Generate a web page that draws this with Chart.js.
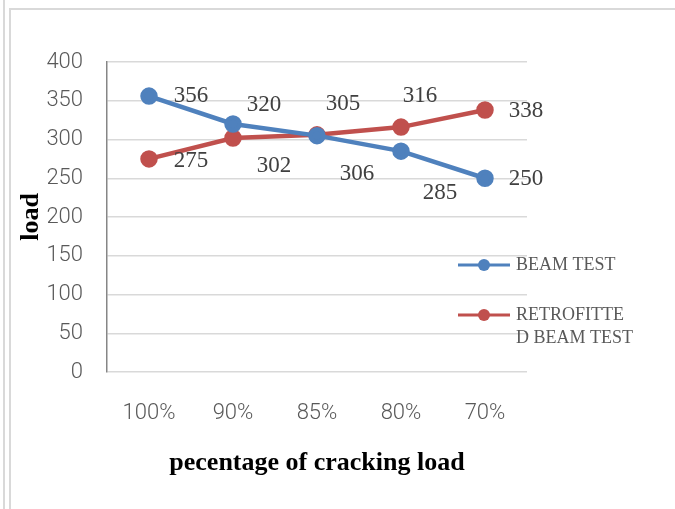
<!DOCTYPE html>
<html>
<head>
<meta charset="utf-8">
<script src="https://cdn.jsdelivr.net/npm/chart.js@4"></script>
<style>
  html, body { margin: 0; padding: 0; background: #fff; }
  #wrap { position: relative; width: 675px; height: 509px; overflow: hidden; }
  #edge { position: absolute; left: 3px; top: 0; width: 2px; height: 509px; background: #d9d9d9; }
  #frame { position: absolute; left: 9px; top: 8px; width: 680px; height: 520px; border-left: 2px solid #d9d9d9; border-top: 2px solid #d9d9d9; }
  canvas { position: absolute; left: 0; top: 0; }
</style>
</head>
<body>
<div id="wrap">
  <div id="edge"></div>
  <div id="frame"></div>
  <canvas id="chart" width="675" height="509"></canvas>
</div>
<script>
var categories = ['100%', '90%', '85%', '80%', '70%'];
var beamTest = [356, 320, 305, 285, 250];
var retrofittedBeamTest = [275, 302, 306, 316, 338];
var yTicks = [0, 50, 100, 150, 200, 250, 300, 350, 400];

var blue = '#4F81BD';
var red = '#C0504D';

// where each value label sits, relative to its point
var labelOffsets = [
    [[42, 0], [31, -19], [26, -32], [39, 42], [41, 1]],
    [[42, 2], [41, 28], [40, 39], [19, -31], [41, 1]]
];

var valueLabels = {
    id: 'valueLabels',
    afterDatasetsDraw: function (chart) {
        var ctx = chart.ctx;
        ctx.save();
        ctx.font = '23px "Liberation Serif", "Times New Roman", serif';
        ctx.fillStyle = '#404040';
        ctx.textAlign = 'center';
        ctx.textBaseline = 'middle';
        chart.data.datasets.forEach(function (ds, i) {
            chart.getDatasetMeta(i).data.forEach(function (pt, j) {
                var off = labelOffsets[i][j];
                ctx.fillText(ds.data[j], pt.x + off[0], pt.y + off[1]);
            });
        });
        ctx.restore();
    }
};

var sideLegend = {
    id: 'sideLegend',
    afterDraw: function (chart) {
        var ctx = chart.ctx;
        var items = [
            {color: blue, lines: ['BEAM TEST'], y: 265},
            {color: red, lines: ['RETROFITTE', 'D BEAM TEST'], y: 315}
        ];
        ctx.save();
        ctx.font = '18px "Liberation Serif", "Times New Roman", serif';
        ctx.textBaseline = 'middle';
        items.forEach(function (it) {
            ctx.strokeStyle = it.color;
            ctx.lineWidth = 3;
            ctx.beginPath();
            ctx.moveTo(458, it.y);
            ctx.lineTo(510, it.y);
            ctx.stroke();
            ctx.fillStyle = it.color;
            ctx.beginPath();
            ctx.arc(484, it.y, 6, 0, Math.PI * 2);
            ctx.fill();
            ctx.fillStyle = '#595959';
            it.lines.forEach(function (t, k) {
                ctx.fillText(t, 516, it.y + k * 23);
            });
        });
        ctx.restore();
    }
};

var ctx = document.getElementById('chart').getContext('2d');
var chart = new Chart(ctx, {
    type: 'line',
    data: {
        labels: categories,
        datasets: [
            {
                label: 'BEAM TEST',
                data: beamTest,
                borderColor: blue,
                backgroundColor: blue,
                borderWidth: 4.5,
                pointRadius: 6.5,
                pointHoverRadius: 6.5,
                tension: 0
            },
            {
                label: 'RETROFITTED BEAM TEST',
                data: retrofittedBeamTest,
                borderColor: red,
                backgroundColor: red,
                borderWidth: 4.5,
                pointRadius: 6.5,
                pointHoverRadius: 6.5,
                tension: 0
            }
        ]
    },
    options: {
        responsive: false,
        animation: false,
        devicePixelRatio: 1,
        layout: {padding: {left: 14, right: 148, top: 62, bottom: 20}},
        plugins: {
            legend: {display: false},
            tooltip: {enabled: false}
        },
        scales: {
            x: {
                offset: true,
                grid: {display: false, drawTicks: false},
                border: {display: false},
                ticks: {
                    padding: 28,
                    color: '#595959',
                    font: {family: 'Roboto', size: 22, weight: '300'}
                },
                title: {
                    display: true,
                    text: 'pecentage of cracking load',
                    color: '#000',
                    padding: {top: 0, bottom: 10},
                    font: {family: '"Liberation Serif", "Times New Roman", serif', size: 26, weight: 'bold'}
                },
                afterFit: function (scale) { scale.height = 117; }
            },
            y: {
                min: 0,
                max: 400,
                afterBuildTicks: function (scale) {
                    scale.ticks = yTicks.map(function (v) { return {value: v}; });
                },
                grid: {color: '#d9d9d9', lineWidth: 1.5, drawTicks: false},
                border: {display: true, color: '#868686', width: 1.5},
                ticks: {
                    padding: 24,
                    color: '#595959',
                    font: {family: 'Roboto', size: 22, weight: '300'}
                },
                title: {
                    display: true,
                    text: 'load',
                    color: '#000',
                    padding: {top: 2, bottom: 0},
                    font: {family: '"Liberation Serif", "Times New Roman", serif', size: 26, weight: 'bold'}
                },
                afterFit: function (scale) { scale.width = 93; }
            }
        }
    },
    plugins: [valueLabels, sideLegend]
});
</script>
</body>
</html>
